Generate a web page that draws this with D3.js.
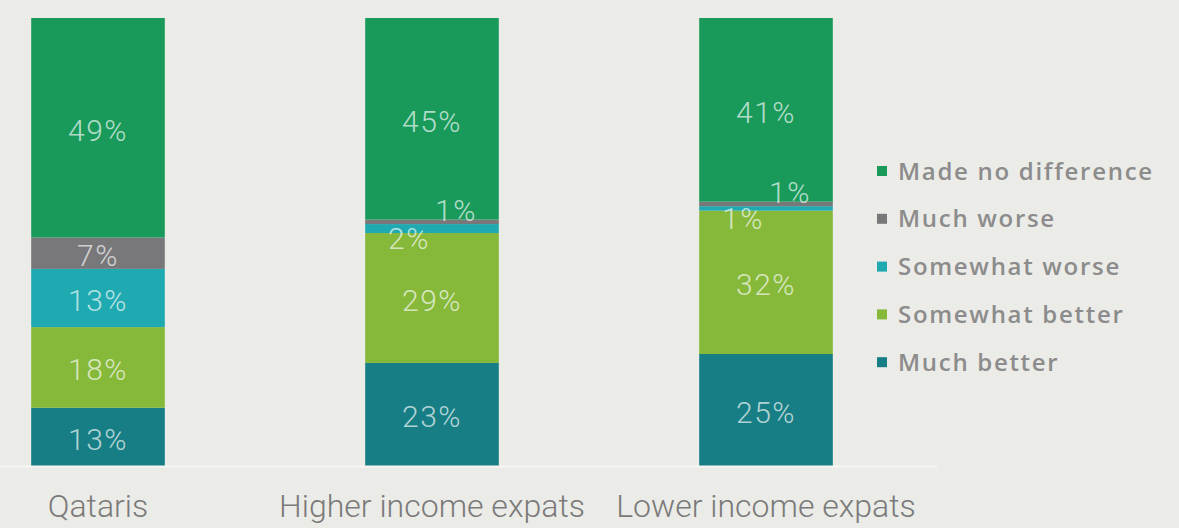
<!DOCTYPE html>
<html>
<head>
<meta charset="utf-8">
<script src="https://cdn.jsdelivr.net/npm/d3@7"></script>
<style>
  html, body { margin: 0; padding: 0; background: #ebebe7; }
  svg { display: block; }
</style>
</head>
<body>
<svg id="chart" width="1179" height="528"></svg>
<script>
// Survey groups (x axis)
const categories = ["Qataris", "Higher income expats", "Lower income expats"];

// Response shares (%) per group, stacked bottom to top
const muchBetter       = [13, 23, 25];
const somewhatBetter   = [18, 29, 32];
const somewhatWorse    = [13, 2, 1];
const muchWorse        = [7, 1, 1];
const madeNoDifference = [49, 45, 41];

// Stack order, bottom to top
const seriesNames = ["Much better", "Somewhat better", "Somewhat worse", "Much worse", "Made no difference"];
const seriesValues = [muchBetter, somewhatBetter, somewhatWorse, muchWorse, madeNoDifference];

// Legend order, top to bottom
const legendOrder = ["Made no difference", "Much worse", "Somewhat worse", "Somewhat better", "Much better"];

const colors = {
  "Much better": "#167e84",
  "Somewhat better": "#86b83a",
  "Somewhat worse": "#1eaab0",
  "Much worse": "#78777a",
  "Made no difference": "#199a5b"
};

const rows = categories.map((c, i) => {
  const r = { category: c };
  seriesNames.forEach((s, k) => { r[s] = seriesValues[k][i]; });
  return r;
});

const svg = d3.select("#chart");

const x = d3.scaleBand()
  .domain(categories)
  .range([-69, 933])
  .paddingInner(0.6)
  .paddingOuter(0.3);

const y = d3.scaleLinear().domain([0, 100]).range([466, 18]);

const stacked = d3.stack().keys(seriesNames)(rows);

// Bars
const layers = svg.append("g").selectAll("g")
  .data(stacked)
  .join("g")
  .attr("fill", d => colors[d.key]);

layers.selectAll("rect")
  .data(d => d.map(p => ({ key: d.key, p })))
  .join("rect")
  .attr("x", d => x(d.p.data.category))
  .attr("width", x.bandwidth())
  .attr("y", d => y(d.p[1]))
  .attr("height", d => y(d.p[0]) - y(d.p[1]));

// Baseline
svg.append("line")
  .attr("x1", 0).attr("x2", 937)
  .attr("y1", y(0) + 0.5).attr("y2", y(0) + 0.5)
  .attr("stroke", "#f6f6f3").attr("stroke-width", 2);

// Value labels; thin slices get their labels nudged off the segment
function nudge(key, v) {
  if (v >= 3) return [0, 0];
  if (key === "Much worse") return [24, -14];
  if (key === "Somewhat worse") return [-23, 8];
  return [0, 0];
}

const labels = svg.append("g")
  .attr("font-family", "Roboto, 'Noto Sans', sans-serif")
  .attr("font-weight", 300)
  .attr("font-size", 30)
  .attr("letter-spacing", 1.5)
  .attr("fill", "#ffffff")
  .attr("fill-opacity", 0.68)
  .attr("text-anchor", "middle");

stacked.forEach(layer => {
  layer.forEach(p => {
    const v = p[1] - p[0];
    const [dx, dy] = nudge(layer.key, v);
    labels.append("text")
      .attr("x", x(p.data.category) + x.bandwidth() / 2 + dx)
      .attr("y", (y(p[0]) + y(p[1])) / 2 + dy + 2)
      .attr("dy", "0.36em")
      .text(v + "%");
  });
});

// Category axis
const axis = d3.axisBottom(x).tickSize(0).tickPadding(0);
const gx = svg.append("g").attr("transform", `translate(0, ${y(0)})`).call(axis);
gx.select(".domain").remove();
gx.selectAll("text")
  .attr("y", 39)
  .attr("dy", "0.36em")
  .attr("font-family", "Roboto, 'Noto Sans', sans-serif")
  .attr("font-weight", 300)
  .attr("font-size", 32)
  .attr("fill", "#7a7a7a");

// Legend
const legend = svg.append("g").attr("transform", "translate(877, 171)");
const item = legend.selectAll("g")
  .data(legendOrder)
  .join("g")
  .attr("transform", (d, i) => `translate(0, ${i * 47.8})`);

item.append("rect")
  .attr("x", 0).attr("y", -5)
  .attr("width", 10).attr("height", 10)
  .attr("fill", d => colors[d]);

item.append("text")
  .attr("x", 21)
  .attr("dy", "0.36em")
  .attr("font-family", "'Open Sans', 'Noto Sans', sans-serif")
  .attr("font-weight", 600)
  .attr("font-size", 24)
  .attr("letter-spacing", 1.7)
  .attr("fill", "#8c8c8c")
  .text(d => d);
</script>
</body>
</html>
